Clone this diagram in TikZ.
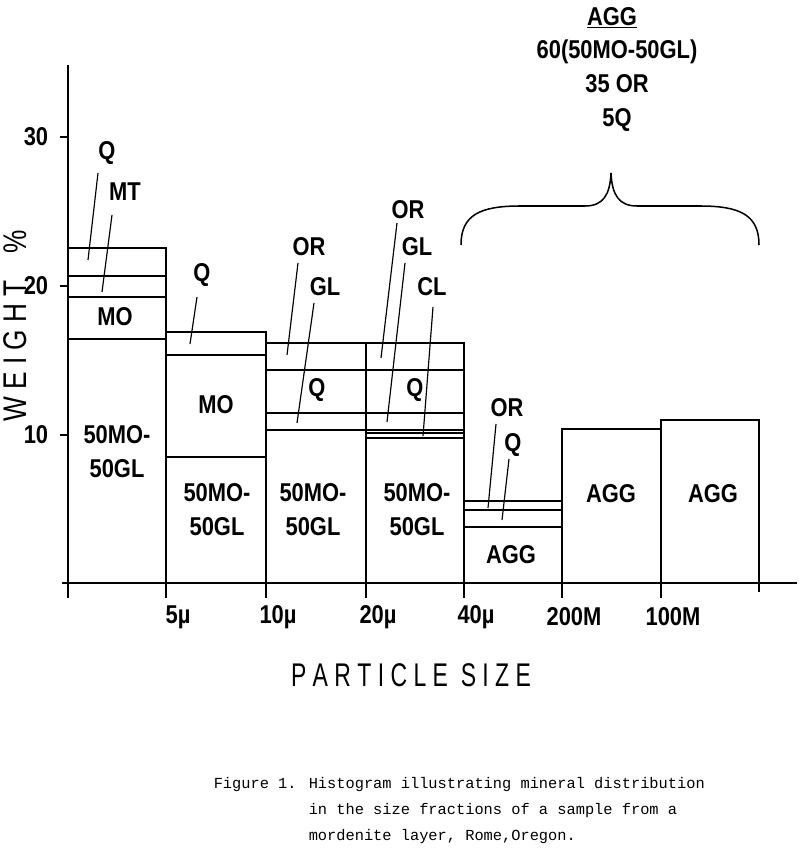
\documentclass[tikz,border=0pt]{standalone}
\usepackage{fontspec}
\setmainfont{Liberation Sans}
\newfontfamily\capfont{Liberation Mono}
\begin{document}
\begin{tikzpicture}[x=0.03cm,y=-0.03cm,line width=1.3pt]
\tikzset{lbl/.style={font=\bfseries\fontsize{22}{26}\selectfont,inner sep=1pt,xscale=0.85},
  big/.style={font=\bfseries\fontsize{22}{29}\selectfont,align=center,inner sep=1pt,xscale=0.85},
  lead/.style={line width=1pt},
  captext/.style={font=\capfont\fontsize{13.1}{22}\selectfont,align=left,anchor=north west,inner sep=0pt}}
\useasboundingbox (0,0) rectangle (800,851);
% axes
\draw (68,65) -- (68,598);
\draw (62,583) -- (797,583);
\foreach \y/\t in {137/30,286/20,435/10} {
  \draw (60,\y) -- (68,\y);
  \node[lbl] at (36,\y) {\t};
}
\foreach \x/\t in {166/5\textmu,266/10\textmu,366/20\textmu,464/40\textmu,562/200M,661/100M} {
  \draw (\x,583) -- (\x,598);
  \node[lbl] at (\x+12,617) {\t};
}
\draw (759,583) -- (759,592);
% bars
\draw (68,583) |- (166,248) -- (166,583);
\draw (68,276) -- (166,276) (68,297) -- (166,297) (68,339) -- (166,339);
\draw (166,583) |- (266,332) -- (266,583);
\draw (166,355) -- (266,355) (166,457) -- (266,457);
\draw (266,583) |- (366,343) -- (366,583);
\draw (266,370) -- (366,370) (266,413) -- (366,413) (266,430) -- (366,430);
\draw (366,343) -- (464,343) -- (464,583);
\draw (366,370) -- (464,370) (366,413) -- (464,413) (366,430) -- (464,430)
  (366,433) -- (464,433) (366,438) -- (464,438);
\draw (464,501) -- (562,501) -- (562,583) (464,510) -- (562,510) (464,527) -- (562,527);
\draw (562,583) |- (661,429) -- (661,583);
\draw (661,583) |- (759,420) -- (759,583);
% labels in bars
\node[big] (mo1) at (115,317) {MO};
\node[big] (mg1) at (117,452) {50MO-\\50GL};
\node[big] (mo2) at (216,405) {MO};
\node[big] (mg2) at (217,510) {50MO-\\50GL};
\node[big] (q3) at (317,390) {Q};
\node[big] (mg3) at (313,510) {50MO-\\50GL};
\node[big] (q4) at (415,390) {Q};
\node[big] (mg4) at (417,510) {50MO-\\50GL};
\node[big] (ag5) at (511,555) {AGG};
\node[big] (ag6) at (611,494) {AGG};
\node[big] (ag7) at (713,494) {AGG};
% leader labels
\node[lbl] (q1) at (107,153) {Q};
\node[lbl] (mt1) at (125,192) {MT};
\node[lbl] (q2) at (202,275) {Q};
\node[lbl] (or3) at (309,247) {OR};
\node[lbl] (gl3) at (325,287) {GL};
\node[lbl] (or4) at (408,210) {OR};
\node[lbl] (gl4) at (417,247) {GL};
\node[lbl] (cl4) at (432,287) {CL};
\node[lbl] (or5) at (507,408) {OR};
\node[lbl] (q5) at (513,445) {Q};
\coordinate (q1e) at (88,260);
\coordinate (mt1e) at (102,292);
\coordinate (q2e) at (190,344);
\coordinate (or3e) at (287,355);
\coordinate (gl3e) at (297,423);
\coordinate (or4e) at (381,358);
\coordinate (gl4e) at (387,422);
\coordinate (cl4e) at (423,436);
\coordinate (or5e) at (488,508);
\coordinate (q5e) at (502,520);
\draw[lead] (98,173) -- (q1e);
\draw[lead] (112,215) -- (mt1e);
\draw[lead] (197,297) -- (q2e);
\draw[lead] (298,263) -- (or3e);
\draw[lead] (314,303) -- (gl3e);
\draw[lead] (397,223) -- (or4e);
\draw[lead] (405,263) -- (gl4e);
\draw[lead] (433,307) -- (cl4e);
\draw[lead] (496,424) -- (or5e);
\draw[lead] (509,459) -- (q5e);
% brace and note
\draw (461,245) .. controls (461,215) and (480,206) .. (520,206) -- (585,206)
  .. controls (603,206) and (610,195) .. (611,173)
  .. controls (612,195) and (619,206) .. (637,206) -- (700,206)
  .. controls (740,206) and (759,215) .. (759,245);
\node[big] (agg) at (612,18) {\underline{AGG}};
\node[big,anchor=north] (mix) at (617,38) {60(50MO-50GL)\\35 OR\\5Q};
% axis titles
\node[font=\fontsize{28}{32}\selectfont,rotate=90,xscale=0.8] (wt) at (15,326) {W E I G H T\quad\%};
\node[font=\fontsize{28}{32}\selectfont,xscale=0.7] (ps) at (411,675) {P A R T I C L E\ \ S I Z E};
\node[captext] (fig) at (213,777) {Figure 1.};
\node[captext] (cap) at (308,777)
  {Histogram illustrating mineral distribution\\
   in the size fractions of a sample from a\\
   mordenite layer, Rome,Oregon.};
\end{tikzpicture}
\end{document}
